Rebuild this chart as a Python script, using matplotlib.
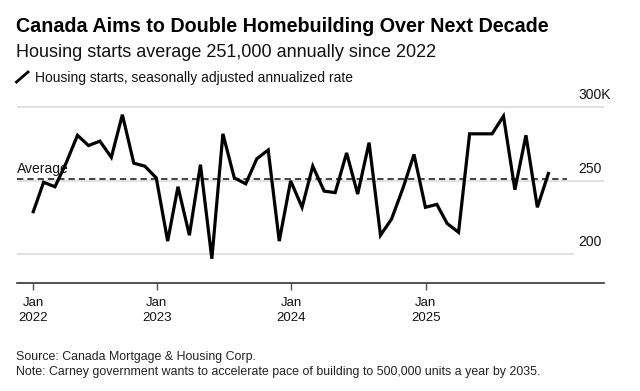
import matplotlib
matplotlib.use("Agg")
import matplotlib.pyplot as plt
import matplotlib.dates as mdates
from matplotlib.lines import Line2D
import pandas as pd

plt.rcParams['font.family'] = ['Liberation Sans', 'DejaVu Sans']

# monthly housing starts, SAAR, thousands (month-end dates)
months = pd.date_range('2022-01-31', periods=47, freq='ME')
starts = [229, 249, 246, 262, 281, 274, 277, 266, 295, 262, 260, 252,
          209, 246, 213, 261, 197, 282, 252, 248, 265, 271, 209, 250,
          232, 260, 243, 242, 269, 241, 276, 213, 224, 245, 268, 232,
          234, 221, 215, 282, 282, 282, 294, 244, 281, 232, 255]
average = 251
grid_vals = [300, 250, 200]
grid_labels = ['300K', '250', '200']
tick_dates = [months[0], pd.Timestamp('2023-01-01'),
              pd.Timestamp('2024-01-01'), pd.Timestamp('2025-01-01')]
tick_labels = ['Jan\n2022', 'Jan\n2023', 'Jan\n2024', 'Jan\n2025']

W, H = 640, 391
fig = plt.figure(figsize=(6.4, 3.91), dpi=100)
ax = fig.add_axes([16.7 / W, (H - 283.3) / H, (604 - 16.7) / W, 183.3 / H])

x = mdates.date2num(months)
ax.set_xlim(x[0] - 45, x[-1] + 151)
ax.set_ylim(180.3, 305)

# gridlines + right-side labels
grid_ends = [1.0, 1.0, 0.947]
for v, lab, xe in zip(grid_vals, grid_labels, grid_ends):
    ax.axhline(v, xmin=0, xmax=xe, color='#dedede', lw=1.3, zorder=1)
    ax.text(0.957, v + 5.4, lab, transform=ax.get_yaxis_transform(),
            ha='left', va='baseline', fontsize=10, color='#111111', clip_on=False)

ax.axhline(average, xmin=0, xmax=0.937, color='#333333', lw=1.3,
           ls=(0, (3.5, 2.2)), zorder=2)
ax.text(0.0, 255.1, 'Average', transform=ax.get_yaxis_transform(),
        ha='left', va='baseline', fontsize=10, color='#111111')

ax.plot(x, starts, color='black', lw=2.3, solid_joinstyle='miter', zorder=3)

for s in ['top', 'left', 'right']:
    ax.spines[s].set_visible(False)
ax.spines['bottom'].set_color('#333333')
ax.spines['bottom'].set_linewidth(1.2)
ax.set_yticks([])
ax.set_xticks(mdates.date2num(tick_dates))
ax.set_xticklabels(tick_labels, fontsize=9.5, color='#111111', linespacing=1.35)
ax.tick_params(axis='x', length=5, width=1, color='#555555', pad=5)

# header
fig.text(16 / W, 1 - 32.3 / H, 'Canada Aims to Double Homebuilding Over Next Decade',
         fontsize=14.2, fontweight='bold', va='baseline', color='#000000')
fig.text(16 / W, 1 - 57.3 / H, 'Housing starts average 251,000 annually since 2022',
         fontsize=13, va='baseline', color='#111111')
fig.add_artist(Line2D([16.5 / W, 28 / W], [1 - 82 / H, 1 - 72 / H],
                      color='black', lw=2))
fig.text(35 / W, 1 - 82.3 / H, 'Housing starts, seasonally adjusted annualized rate',
         fontsize=10, va='baseline', color='#111111')

# footer
fig.text(16 / W, 1 - 360 / H, 'Source: Canada Mortgage & Housing Corp.',
         fontsize=8.9, va='baseline', color='#222222')
fig.text(16 / W, 1 - 375 / H,
         'Note: Carney government wants to accelerate pace of building to 500,000 units a year by 2035.',
         fontsize=8.9, va='baseline', color='#222222')

fig.savefig('out.png', dpi=100)
